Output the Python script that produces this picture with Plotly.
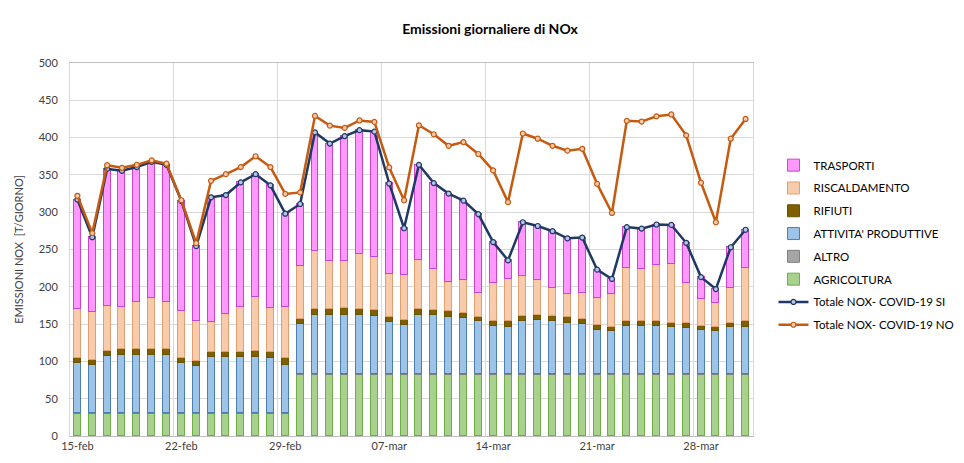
import pandas as pd
import plotly.graph_objects as go

dates = pd.date_range("2020-02-15", "2020-03-31", freq="D")

agricoltura = [30, 30, 30, 30, 30, 30, 30, 30, 30, 30, 30, 30, 30, 30, 30,
               82, 82, 82, 82, 82, 82, 82, 82, 82, 82, 82, 82, 82, 82, 82, 82,
               82, 82, 82, 82, 82, 82, 82, 82, 82, 82, 82, 82, 82, 82, 82]
altro = [0.5] * 46
attivita = [67.5, 64.5, 76.5, 78.5, 78.5, 78.5, 78, 67.5, 64, 75, 75, 75, 76, 74, 65,
            67, 80, 80, 80, 80, 78.5, 70.5, 66, 80, 79.5, 77.5, 76, 71.5, 64.5, 64,
            71.5, 72.5, 71.5, 69, 67, 60, 58, 64.5, 64.5, 64.5, 64, 62.5, 59, 58, 63, 63.5]
rifiuti = [7, 7, 7, 7, 7, 7.5, 7.5, 7, 6.5, 6.5, 7, 7, 8, 7.5, 8.5,
           7.5, 7.5, 7.5, 8.5, 7.5, 7.5, 7, 7, 7.5, 7.5, 7, 7, 6, 7, 7,
           6.5, 7, 6.5, 7.5, 7.5, 6.5, 6, 7, 7, 6.5, 5.5, 7, 6, 6, 6.5, 7.5]
riscaldamento = [65, 64, 60, 57, 63, 68, 64, 62.5, 52.5, 41, 50.5, 60.5, 72.5, 59, 69.5,
                 71, 78, 65, 64, 74, 72, 57, 60.5, 66, 54, 40, 43, 31.5, 51, 57,
                 53.5, 47, 37.5, 31, 34.5, 35.5, 44.5, 71, 70, 76, 79, 53, 35.5, 31.5, 47, 71.5]
trasporti = [147, 100.5, 184, 182.5, 181.5, 183, 183.5, 147.5, 101, 167, 160, 167, 164, 165, 124.5,
             83, 159, 157, 167, 166, 167.5, 121.5, 62.5, 127.5, 115.5, 118, 107, 106, 55, 25,
             72.5, 72.5, 76.5, 75, 74.5, 38.5, 19.5, 55, 54, 54, 52, 54, 30, 19, 54, 51.5]
totale_si = [317, 266.5, 358, 355.5, 360.5, 367.5, 363.5, 315, 254.5, 320, 323, 340, 351, 336, 298,
             311, 407, 392, 402, 410, 408, 338.5, 278.5, 363.5, 339, 325, 315.5, 297.5, 260, 235.5,
             286.5, 281.5, 274.5, 265, 266, 223, 210.5, 280, 278, 283.5, 283, 259, 213, 197, 253, 276.5]
totale_no = [322, 272, 363, 359.5, 363.5, 369.5, 365, 316, 258.5, 342, 351, 360.5, 375, 360.5, 324.5,
             326.5, 429, 416, 413, 423, 421, 360, 316, 416.5, 404.5, 389, 394, 378, 356, 313.5,
             405.5, 398.5, 389, 382.5, 385, 338, 299, 422.5, 421.5, 428.5, 431, 403, 339.5, 286.5, 398.5, 425]

tick_dates = ["2020-02-15", "2020-02-22", "2020-02-29", "2020-03-07",
              "2020-03-14", "2020-03-21", "2020-03-28"]
tick_labels = ["15-feb", "22-feb", "29-feb", "07-mar", "14-mar", "21-mar", "28-mar"]

FONT = "Lato, Open Sans, sans-serif"
DAY = 86400000
bar_w = 0.47 * DAY

fig = go.Figure()

bars = [
    ("AGRICOLTURA", agricoltura, "#A9D18E", "#70AD47", 6),
    ("ALTRO", altro, "#A5A5A5", "#7F7F7F", 5),
    ("ATTIVITA' PRODUTTIVE", attivita, "#9DC3E6", "#4A7FAF", 4),
    ("RIFIUTI", rifiuti, "#7F6000", "#6B5200", 3),
    ("RISCALDAMENTO", riscaldamento, "#F8CBAD", "#E2A070", 2),
    ("TRASPORTI", trasporti, "#FF99FF", "#CC44CC", 1),
]
for name, vals, fill, line, rank in bars:
    fig.add_trace(go.Bar(
        x=dates, y=vals, name=name, width=bar_w,
        marker=dict(color=fill, line=dict(color=line, width=1)),
        legendrank=rank, legendgroup=name,
    ))

fig.add_trace(go.Scatter(
    x=dates, y=totale_si, name="Totale NOX- COVID-19 SI", mode="lines+markers",
    line=dict(color="#203864", width=2.5),
    marker=dict(symbol="circle", size=5, color="#B4C7E7", line=dict(color="#203864", width=1.2)),
    legendrank=7, legendgroup="si",
))
fig.add_trace(go.Scatter(
    x=dates, y=totale_no, name="Totale NOX- COVID-19 NO", mode="lines+markers",
    line=dict(color="#C55A11", width=2.5),
    marker=dict(symbol="circle", size=5, color="#F8CBAD", line=dict(color="#C55A11", width=1.2)),
    legendrank=8, legendgroup="no",
))

fig.update_layout(
    width=964, height=463,
    barmode="stack",
    bargap=0,
    plot_bgcolor="white", paper_bgcolor="white",
    margin=dict(l=62, r=209, t=55, b=35),
    font=dict(family=FONT, size=11, color="#404040"),
    title=dict(text="<b>Emissioni giornaliere di NOx</b>", x=0.5, xanchor="center",
               y=0.955, yanchor="middle", font=dict(family=FONT, size=14, color="#000000")),
    legend=dict(x=1.03, y=0.765, xanchor="left", yanchor="top",
                font=dict(family=FONT, size=11.5, color="#000000"),
                tracegroupgap=3.8, traceorder="grouped", bgcolor="rgba(0,0,0,0)"),
    showlegend=True,
)
fig.update_xaxes(
    type="date",
    range=["2020-02-14 12:00", "2020-03-31 12:00"],
    tickmode="array", tickvals=tick_dates, ticktext=tick_labels,
    showgrid=False, ticks="",
    minor=dict(showgrid=True, gridcolor="#D9D9D9", gridwidth=1,
               tick0="2020-02-14 12:00", dtick=7 * DAY, ticks=""),
    showline=True, linecolor="#BFBFBF", linewidth=1, mirror=True,
    tickfont=dict(family=FONT, size=11, color="#404040"),
    zeroline=False,
)
fig.update_yaxes(
    range=[0, 500], dtick=50,
    showgrid=True, gridcolor="#D9D9D9", gridwidth=1,
    showline=True, linecolor="#D9D9D9", linewidth=1, mirror=True,
    ticks="", ticklabelstandoff=9,
    tickfont=dict(family=FONT, size=11, color="#404040"),
    title=dict(text="EMISSIONI NOX  [T/GIORNO]", standoff=12,
               font=dict(family=FONT, size=11, color="#404040")),
    zeroline=False,
)

fig.write_html("out.html")
